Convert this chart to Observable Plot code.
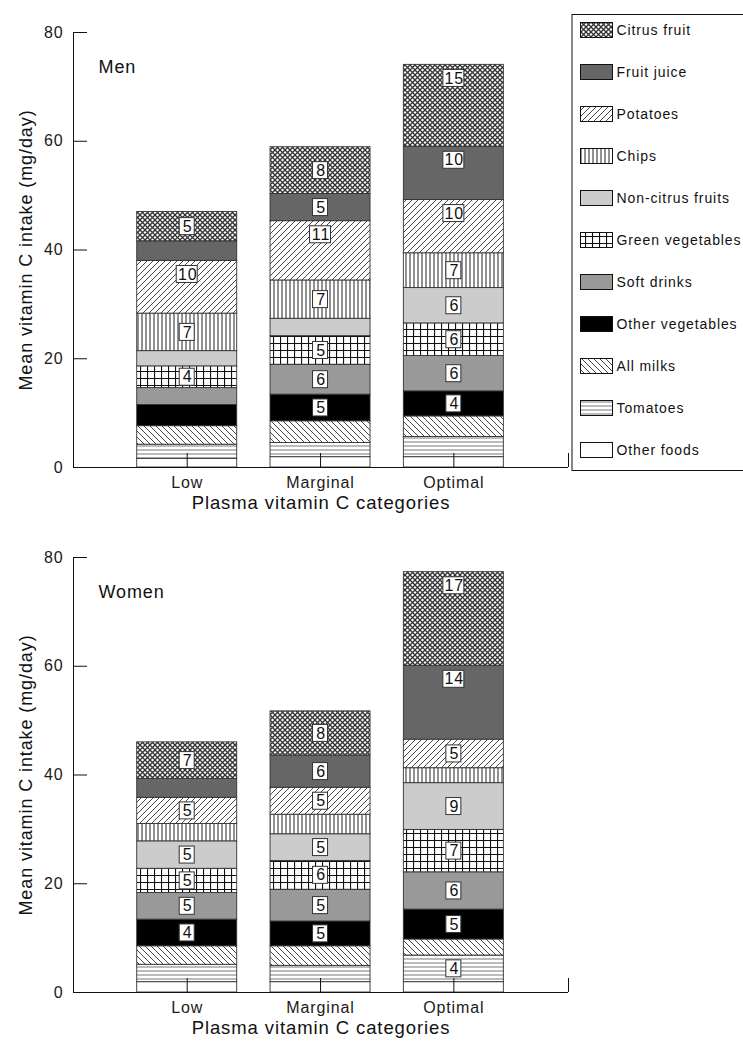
<!DOCTYPE html>
<html><head><meta charset="utf-8">
<script src="https://cdn.jsdelivr.net/npm/d3@7"></script>
<script src="https://cdn.jsdelivr.net/npm/@observablehq/plot@0.6"></script>
<style>
body{margin:0;background:#fff;}
#wrap{position:relative;width:743px;height:1042px;overflow:hidden;font-family:"Liberation Sans",Arial,sans-serif;}
#wrap svg text{letter-spacing:0.9px}
</style></head><body>
<svg width="0" height="0" style="position:absolute">
<defs>
<pattern id="p-citrus" patternUnits="userSpaceOnUse" width="5" height="5"><rect width="5" height="5" fill="#fff"/><path d="M0,0L5,5M5,0L0,5" stroke="#333" stroke-width="1.3"/></pattern>
<pattern id="p-potatoes" patternUnits="userSpaceOnUse" width="6" height="6"><rect width="6" height="6" fill="#fff"/><path d="M-1,1L1,-1M0,6L6,0M5,7L7,5" stroke="#333" stroke-width="0.9"/></pattern>
<pattern id="p-milks" patternUnits="userSpaceOnUse" width="6" height="6"><rect width="6" height="6" fill="#fff"/><path d="M-1,5L1,7M0,0L6,6M5,-1L7,1" stroke="#333" stroke-width="0.9"/></pattern>
<pattern id="p-chips" patternUnits="userSpaceOnUse" width="4" height="4"><rect width="4" height="4" fill="#fff"/><path d="M2,0V4" stroke="#222" stroke-width="1"/></pattern>
<pattern id="p-green" patternUnits="userSpaceOnUse" width="7" height="7"><rect width="7" height="7" fill="#fff"/><path d="M0.5,0V7M0,0.5H7" stroke="#111" stroke-width="1.2"/></pattern>
<pattern id="p-tomatoes" patternUnits="userSpaceOnUse" width="4" height="4"><rect width="4" height="4" fill="#fff"/><path d="M0,2H4" stroke="#777" stroke-width="1"/></pattern>
</defs></svg>
<div id="wrap">
  <div id="top" style="position:absolute;left:0;top:0"></div>
  <div id="bottom" style="position:absolute;left:0;top:525px"></div>
  <div id="legend" style="position:absolute;left:571px;top:12px"></div>
</div>
<script>
// ---- data ----
const categories = ["Low", "Marginal", "Optimal"];
// stacking order, bottom to top
const foods = ["Other foods", "Tomatoes", "All milks", "Other vegetables", "Soft drinks",
  "Green vegetables", "Non-citrus fruits", "Chips", "Potatoes", "Fruit juice", "Citrus fruit"];
const yTicks = [0, 20, 40, 60, 80];

const menLow      = [1.6, 2.6, 3.4, 3.9, 3.1, 4.0, 2.8, 6.9, 9.7, 3.6, 5.4];
const menMarginal = [1.9, 2.6, 4.0, 4.9, 5.5, 5.25, 3.2, 7.05, 10.9, 5.0, 8.6];
const menOptimal  = [1.9, 3.7, 3.8, 4.6, 6.5, 6.0, 6.5, 6.4, 9.8, 9.8, 15.05];
const womenLow      = [1.9, 3.2, 3.4, 4.9, 4.9, 4.45, 5.05, 3.2, 4.8, 3.5, 6.7];
const womenMarginal = [1.9, 3.0, 3.6, 4.56, 5.84, 5.3, 4.9, 3.6, 4.95, 5.95, 8.1];
const womenOptimal  = [1.9, 4.9, 2.95, 5.5, 6.85, 7.8, 8.6, 2.75, 5.25, 13.6, 17.2];

const menLowLabels      = [null, null, null, null, null, "4", null, "7", "10", null, "5"];
const menMarginalLabels = [null, null, null, "5", "6", "5", null, "7", "11", "5", "8"];
const menOptimalLabels  = [null, null, null, "4", "6", "6", "6", "7", "10", "10", "15"];
const womenLowLabels      = [null, null, null, "4", "5", "5", "5", null, "5", null, "7"];
const womenMarginalLabels = [null, null, null, "5", "5", "6", "5", null, "5", "6", "8"];
const womenOptimalLabels  = [null, "4", null, "5", "6", "7", "9", null, "5", "14", "17"];

// ---- styles ----
const foodFill = {
  "Citrus fruit": "url(#p-citrus)", "Fruit juice": "#666666", "Potatoes": "url(#p-potatoes)",
  "Chips": "url(#p-chips)", "Non-citrus fruits": "#cccccc", "Green vegetables": "url(#p-green)",
  "Soft drinks": "#999999", "Other vegetables": "#000000", "All milks": "url(#p-milks)",
  "Tomatoes": "url(#p-tomatoes)", "Other foods": "#ffffff"
};
const FONT = '"Liberation Sans", Arial, sans-serif';
const W = 743, mL = 73, mR = 175, mT = 32, plotH = 435;
const xDomain = [-0.853, 2.86];

function chart(sexLabel, series, labels, height) {
  const rows = [], lbl = [];
  categories.forEach((c, i) => {
    let acc = 0;
    series[i].forEach((v, j) => {
      const y1 = acc, y2 = acc + v; acc = y2;
      rows.push({i, food: foods[j], y1, y2});
      const t = labels[i][j];
      if (t) lbl.push({i, text: t, y: v >= 9 ? y2 - 2.5 : (y1 + y2) / 2});
    });
  });
  const one = lbl.filter(d => d.text.length === 1), two = lbl.filter(d => d.text.length > 1);
  const frameW = W - mL - mR;
  return Plot.plot({
    width: W, height, marginLeft: mL, marginRight: mR, marginTop: mT, marginBottom: height - mT - plotH,
    style: {fontFamily: FONT, fontSize: "16px", color: "#1a1a1a", background: "transparent"},
    x: {domain: xDomain, ticks: [0, 1, 2], tickFormat: i => categories[i], tickSize: 0, tickPadding: 9, label: null},
    y: {domain: [0, 80], ticks: yTicks, tickSize: 0, tickPadding: 10, label: null},
    color: {type: "identity"},
    marks: [
      Plot.rect(rows, {x1: d => d.i - 0.375, x2: d => d.i + 0.375, y1: "y1", y2: "y2",
        fill: d => foodFill[d.food], stroke: "#333", strokeWidth: 0.9}),
      Plot.rect(one, {x1: "i", x2: "i", y1: "y", y2: "y", insetLeft: -7.5, insetRight: -7.5,
        insetTop: -8.5, insetBottom: -8.5, fill: "white", stroke: "#333", strokeWidth: 1}),
      Plot.rect(two, {x1: "i", x2: "i", y1: "y", y2: "y", insetLeft: -10.5, insetRight: -10.5,
        insetTop: -8.5, insetBottom: -8.5, fill: "white", stroke: "#333", strokeWidth: 1}),
      Plot.text(lbl, {x: "i", y: "y", text: "text", fontSize: 16, fill: "#111", dx: 0.5}),
      Plot.ruleY([0], {stroke: "#111"}),
      Plot.ruleX([xDomain[0]], {y1: 0, y2: 80, stroke: "#111"}),
      Plot.ruleY(yTicks, {insetRight: frameW - 14, stroke: "#111"}),
      Plot.ruleX([0, 1, 2, xDomain[1]], {insetTop: plotH - 14, stroke: "#111"}),
      Plot.text([sexLabel], {frameAnchor: "top-left", dx: 25, dy: 28, textAnchor: "start", fontSize: 18, fill: "#111"}),
      Plot.text(["Plasma vitamin C categories"], {frameAnchor: "bottom", dy: 41, fontSize: 18.5, fill: "#111"}),
      Plot.text(["Mean vitamin C intake (mg/day)"], {frameAnchor: "left", dx: -47, rotate: -90, textAnchor: "middle", fontSize: 18, fill: "#111"})
    ]
  });
}

document.getElementById("top").appendChild(
  chart("Men", [menLow, menMarginal, menOptimal], [menLowLabels, menMarginalLabels, menOptimalLabels], 525));
document.getElementById("bottom").appendChild(
  chart("Women", [womenLow, womenMarginal, womenOptimal], [womenLowLabels, womenMarginalLabels, womenOptimalLabels], 517));

// ---- legend ----
const legendOrder = foods.slice().reverse();
const legend = Plot.plot({
  width: 172, height: 460, marginLeft: 0, marginRight: 0, marginTop: 18, marginBottom: 22,
  style: {fontFamily: FONT, fontSize: "14px", color: "#111", background: "transparent"},
  x: {domain: [0, 172], axis: null},
  y: {type: "point", domain: legendOrder, padding: 0, axis: null},
  color: {type: "identity"},
  marks: [
    Plot.frame({fill: "white", stroke: "#111", insetTop: -16, insetBottom: -20, insetLeft: 0.5, insetRight: -5}),
    Plot.rect(legendOrder, {x1: 9.5, x2: 41.5, y1: d => d, y2: d => d, insetTop: -7.5, insetBottom: -7.5,
      fill: d => foodFill[d], stroke: "#111", strokeWidth: 1}),
    Plot.text(legendOrder, {x: 45, y: d => d, text: d => d, textAnchor: "start", fontSize: 14, fill: "#111"})
  ]
});
document.getElementById("legend").appendChild(legend);
</script>
</body></html>
